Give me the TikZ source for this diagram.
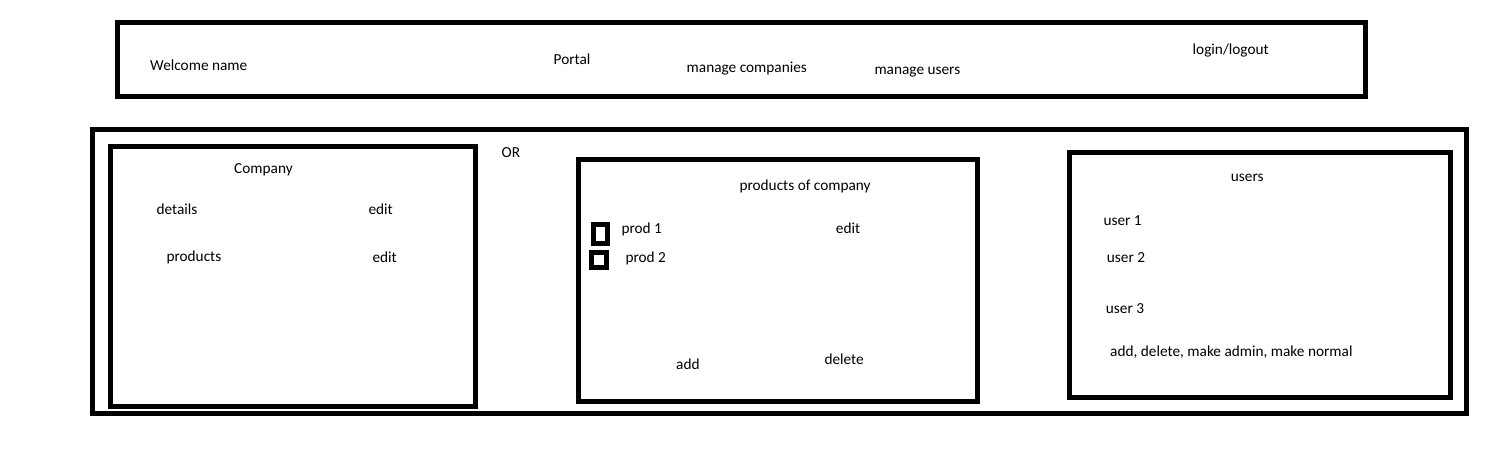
\documentclass[tikz,border=0pt]{standalone}
\usepackage{fontspec}
\setmainfont{Carlito}
\begin{document}
\begin{tikzpicture}[x=1pt,y=-1pt,
  frame/.style={draw=black,line width=5pt,rectangle,inner sep=0pt},
  lbl/.style={anchor=base west,inner sep=0pt,font=\fontsize{15.3}{18}\selectfont,text=black}]
\useasboundingbox (0,0) rectangle (1504,448);
% boxes (centerline coordinates)
\node[frame,minimum width=1248pt,minimum height=74pt] (topbar) at (741.5,59.5) {};
\node[frame,minimum width=1374pt,minimum height=284pt] (outer) at (779.5,271.5) {};
\node[frame,minimum width=365pt,minimum height=260pt] (company) at (292.5,276) {};
\node[frame,minimum width=399pt,minimum height=242pt] (products) at (778,280.5) {};
\node[frame,minimum width=381pt,minimum height=245pt] (users) at (1260,275) {};
\node[frame,minimum width=14pt,minimum height=19pt] (cb1) at (600.5,233.8) {};
\node[frame,minimum width=15pt,minimum height=15pt] (cb2) at (599,260) {};
% top bar texts
\node[lbl] (welcome) at (150,70.3) {Welcome name};
\node[lbl] (portal) at (553.5,64.3) {Portal};
\node[lbl] (mcomp) at (686.5,72.3) {manage companies};
\node[lbl] (musers) at (874.3,74.3) {manage users};
\node[lbl] (login) at (1192.5,54) {login/logout};
% company panel
\node[lbl] (ctitle) at (234,173.3) {Company};
\node[lbl] (or) at (501.5,157.3) {OR};
\node[lbl] (details) at (156.3,214.3) {details};
\node[lbl] (edit1) at (368.3,214.3) {edit};
\node[lbl] (prods) at (166.3,261.3) {products};
\node[lbl] (edit2) at (372.3,262.3) {edit};
% products panel
\node[lbl] (ptitle) at (739.3,190) {products of company};
\node[lbl] (prod1) at (621.3,233.3) {prod 1};
\node[lbl] (pedit) at (835.7,233.3) {edit};
\node[lbl] (prod2) at (625.3,262) {prod 2};
\node[lbl] (padd) at (676,369) {add};
\node[lbl] (pdel) at (824.3,364) {delete};
% users panel
\node[lbl] (utitle) at (1230.7,181) {users};
\node[lbl] (u1) at (1103.3,225.7) {user 1};
\node[lbl] (u2) at (1106.7,262.7) {user 2};
\node[lbl] (u3) at (1105.7,313.3) {user 3};
\node[lbl] (uact) at (1110,356) {add, delete, make admin, make normal};
\end{tikzpicture}
\end{document}
